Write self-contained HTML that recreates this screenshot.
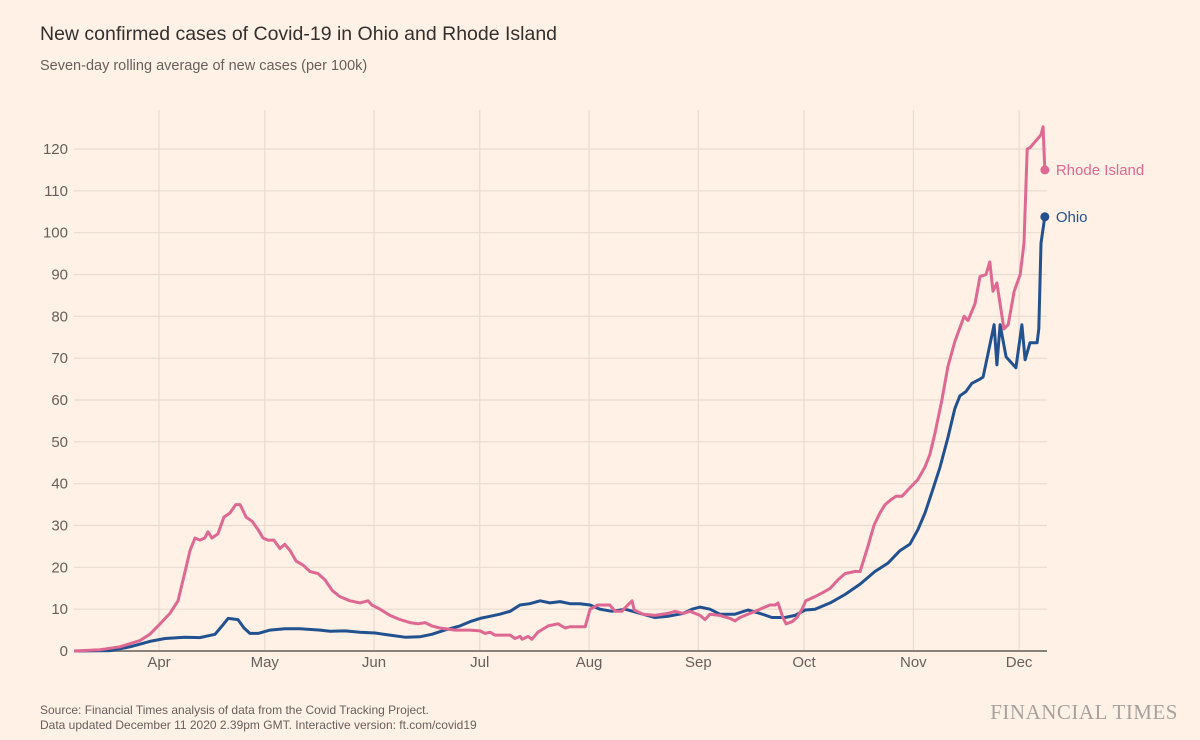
<!DOCTYPE html>
<html><head><meta charset="utf-8"><style>
html,body{margin:0;padding:0;background:#fff1e5;}
body{width:1200px;height:740px;overflow:hidden;font-family:"Liberation Sans",sans-serif;position:relative;}
.t{position:absolute;white-space:nowrap;}
</style></head><body>
<div class="t" style="left:40px;top:23px;font-size:19.5px;color:#33302e;">New confirmed cases of Covid-19 in Ohio and Rhode Island</div>
<div class="t" style="left:40px;top:58px;font-size:14.5px;color:#66605c;">Seven-day rolling average of new cases (per 100k)</div>
<svg id="chart" width="1200" height="740" style="position:absolute;left:0;top:0;"></svg>
<div class="t" style="left:40px;top:703px;font-size:12px;line-height:15px;color:#66605c;">Source: Financial Times analysis of data from the Covid Tracking Project.<br>Data updated December 11 2020 2.39pm GMT. Interactive version: ft.com/covid19</div>
<div class="t" style="right:22px;top:700px;font-family:'Liberation Serif',serif;font-size:21px;color:#a8a29e;letter-spacing:0.5px;">FINANCIAL TIMES</div>
<script>
// days since Mar 1 2020
const monthLabels=["Apr","May","Jun","Jul","Aug","Sep","Oct","Nov","Dec"];
const monthDays=[31,61,92,122,153,184,214,245,275];
const yTicks=[0,10,20,30,40,50,60,70,80,90,100,110,120];
const riDays=[6.9,14.3,19.9,25.6,28.4,31.3,34.1,36.4,38.4,39.8,41.2,42.6,44.0,44.9,46.0,47.7,49.4,51.1,52.8,54.0,55.7,57.4,59.1,60.5,61.9,63.6,65.3,66.7,68.2,69.9,71.9,73.8,76.1,78.1,80.1,82.3,85.2,88.0,90.3,91.4,93.7,96.5,99.4,102.2,104.5,106.5,108.4,110.7,115.0,119.2,122.1,123.5,124.9,126.3,129.2,130.6,132.0,133.4,134.0,135.7,136.8,138.5,141.4,144.2,146.2,147.6,151.9,153.3,155.5,158.9,160.4,162.3,164.0,165.2,165.8,168.3,171.7,175.4,177.4,179.7,181.6,184.5,185.9,187.3,190.1,193.0,194.4,195.8,200.1,201.5,204.3,205.8,206.6,208.0,208.9,210.6,212.0,213.4,214.5,217.1,219.4,221.4,223.6,225.6,228.4,229.9,232.1,233.8,235.5,237.0,238.4,240.1,241.8,244.0,246.3,248.3,249.7,251.1,253.1,254.8,256.8,259.4,260.5,262.5,263.9,265.6,266.7,267.6,268.7,270.7,271.9,273.6,275.3,276.4,277.3,278.1,279.8,281.2,281.8,282.3];
const riValues=[0,0.3,1,2.5,4,6.5,9,12,19,24,27,26.5,27,28.5,27,28,32,33,35,35,32,31,29,27,26.5,26.5,24.5,25.5,24,21.5,20.5,19,18.5,17,14.5,13,12,11.5,12,11,10,8.5,7.5,6.8,6.5,6.8,6,5.5,5,5,4.8,4.2,4.5,3.8,3.8,3.8,3,3.5,2.8,3.5,2.8,4.5,6,6.5,5.5,5.8,5.8,10,11,11,9.5,9.5,11,12,9.8,8.8,8.5,9,9.5,9,9.5,8.5,7.5,8.8,8.5,7.8,7.2,8,9.5,10,11,11,11.5,8,6.5,7,8,10,12,13,14,15,17,18.5,19,19,25,30,33,35,36,37,37,39,41,44,47,52,60,68,74,80,79,83,89.5,90,93,86,88,77,78,86,90,97.5,120,120.3,122,123.4,125.3,115];
const ohDays=[6.9,17.1,22.8,28.4,32.7,38.4,42.6,46.9,48.9,50.6,53.4,55.1,56.8,59.1,62.5,66.7,71.0,76.7,79.5,83.8,88.0,92.3,96.5,100.8,105.0,108.4,112.1,116.4,119.2,122.1,124.9,127.7,130.6,133.4,136.2,139.1,141.9,144.8,147.6,150.4,153.3,156.1,159.5,163.2,167.5,171.7,175.4,179.7,182.2,184.5,187.3,190.1,194.4,198.1,201.5,204.9,208.6,211.4,214.3,217.1,221.4,225.6,229.9,234.1,237.8,241.2,244.0,246.3,248.3,250.3,252.6,254.8,256.8,258.2,259.9,261.6,263.9,264.8,267.9,268.7,269.6,271.3,274.1,275.8,276.7,278.1,280.1,280.6,281.2,282.3];
const ohValues=[0,0.1,1,2.3,3,3.3,3.2,4,6,7.8,7.5,5.5,4.2,4.2,5,5.3,5.3,5,4.7,4.8,4.5,4.3,3.8,3.3,3.4,4,5,6,7,7.8,8.3,8.8,9.5,11,11.3,12,11.5,11.8,11.3,11.3,11,10,9.5,10,9,8,8.3,9,10,10.5,10,8.8,8.8,9.8,9,8,8,8.5,9.8,10,11.5,13.5,16,19,21,24,25.5,29,33,38,44,51,58,61,62,64,65,65.5,78,68.4,78,70.3,67.7,78,69.6,73.7,73.7,77,97.5,103.8];

const NS="http://www.w3.org/2000/svg";
const svg=document.getElementById('chart');
const X0=74,X1=1047,Y0=651,Y120=149;
function xs(d){return 159+(d-31)*3.525;}
function ys(v){return Y0-(v/120)*(Y0-Y120);}
function mk(tag,attrs){const e=document.createElementNS(NS,tag);for(const k in attrs)e.setAttribute(k,attrs[k]);svg.appendChild(e);return e;}

yTicks.forEach(v=>{
  const g=mk('line',{x1:X0,x2:X1,y1:ys(v),y2:ys(v),stroke:v===0?'#8a817a':'#e8dbd0','stroke-width':v===0?2:1.2});
  
  
  const t=mk('text',{x:68,y:ys(v)+5,'text-anchor':'end','font-size':15,fill:'#66605c','font-family':'Liberation Sans, sans-serif'});
  t.textContent=v;
  
  
});
monthDays.forEach((d,i)=>{
  const g=mk('line',{x1:xs(d),x2:xs(d),y1:110,y2:Y0-1,stroke:'#e8dbd0','stroke-width':1.2});
  
  
  const t=mk('text',{x:xs(d),y:667,'text-anchor':'middle','font-size':15,fill:'#66605c','font-family':'Liberation Sans, sans-serif'});
  t.textContent=monthLabels[i];
  
  
});
function series(days,vals,color,name,label){
  const p=days.map((d,i)=>(i?'L':'M')+xs(d).toFixed(1)+','+ys(vals[i]).toFixed(1)).join('');
  const l=mk('path',{d:p,fill:'none',stroke:color,'stroke-width':3,'stroke-linejoin':'round'});
  
  
  const n=days.length-1;
  const c=mk('circle',{cx:xs(days[n]),cy:ys(vals[n]),r:4.5,fill:color});
  
  
  const t=mk('text',{x:xs(days[n])+11,y:ys(vals[n])+5,'font-size':15,fill:color,'font-family':'Liberation Sans, sans-serif'});
  t.textContent=label;
  
  
}
series(ohDays,ohValues,'#22518f','ohio','Ohio');
series(riDays,riValues,'#dd6892','rhode-island','Rhode Island');
</script>
</body></html>
